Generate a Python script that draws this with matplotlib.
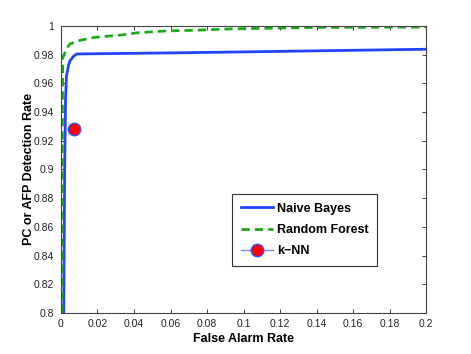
import matplotlib
matplotlib.use("Agg")
import matplotlib.pyplot as plt
from matplotlib.ticker import FuncFormatter

plt.rcParams['font.family'] = ['Liberation Sans', 'DejaVu Sans']

nb_x = [0.0015, 0.002, 0.0025, 0.003, 0.004, 0.005, 0.007, 0.0086, 0.07, 0.2]
nb_y = [0.800, 0.900, 0.950, 0.965, 0.972, 0.976, 0.979, 0.9805, 0.9814, 0.9838]

rf_x = [0.0005, 0.0008, 0.001, 0.002, 0.003, 0.0049, 0.0104, 0.0186, 0.033, 0.042,
        0.057, 0.072, 0.094, 0.14, 0.2]
rf_y = [0.800, 0.950, 0.978, 0.981, 0.984, 0.9875, 0.990, 0.9921, 0.9937, 0.9953,
        0.9965, 0.997, 0.998, 0.999, 0.9993]

knn_x = [0.0071]
knn_y = [0.928]

xticks = [0, 0.02, 0.04, 0.06, 0.08, 0.1, 0.12, 0.14, 0.16, 0.18, 0.2]
yticks = [0.8, 0.82, 0.84, 0.86, 0.88, 0.9, 0.92, 0.94, 0.96, 0.98, 1.0]

fig = plt.figure(figsize=(4.71, 3.54), dpi=100)
ax = fig.add_axes([0.1295, 0.1158, 0.775, 0.8108])

ax.plot(nb_x, nb_y, color='#2244ff', lw=2, label='Naive Bayes')
ax.plot(rf_x, rf_y, color='#1ea81e', lw=2, ls=(0, (3, 1.8)), label='Random Forest')
ax.plot(knn_x, knn_y, color='#8080ff', lw=1, marker='o', markersize=9,
        markerfacecolor='#ff0000', markeredgecolor='#3355ff', markeredgewidth=1,
        label='k\u2212NN')

ax.set_xlim(0, 0.2)
ax.set_ylim(0.8, 1.0)
ax.set_xticks(xticks)
ax.set_yticks(yticks)
fmt = FuncFormatter(lambda v, p: '%g' % round(v, 4))
ax.xaxis.set_major_formatter(fmt)
ax.yaxis.set_major_formatter(fmt)
ax.tick_params(direction='in', top=True, right=True, length=3, width=0.6,
               labelsize=7.5, colors='#222222')
ax.tick_params(axis='x', pad=4)
ax.tick_params(axis='y', pad=5)
for s in ax.spines.values():
    s.set_linewidth(0.8)
    s.set_color('#444444')

ax.set_xlabel('False Alarm Rate', fontsize=9, fontweight='bold', labelpad=3)
ax.set_ylabel('PC or AFP Detection Rate', fontsize=9, fontweight='bold', labelpad=-1)

leg = ax.legend(loc='upper left', bbox_to_anchor=(0.468, 0.415),
                prop={'weight': 'bold', 'size': 9}, fancybox=False, edgecolor='#333333',
                framealpha=1, handlelength=2.6, borderpad=0.7, labelspacing=0.75,
                handletextpad=0.3, borderaxespad=0)
leg.get_frame().set_linewidth(0.8)

fig.savefig('out.png', dpi=100)
